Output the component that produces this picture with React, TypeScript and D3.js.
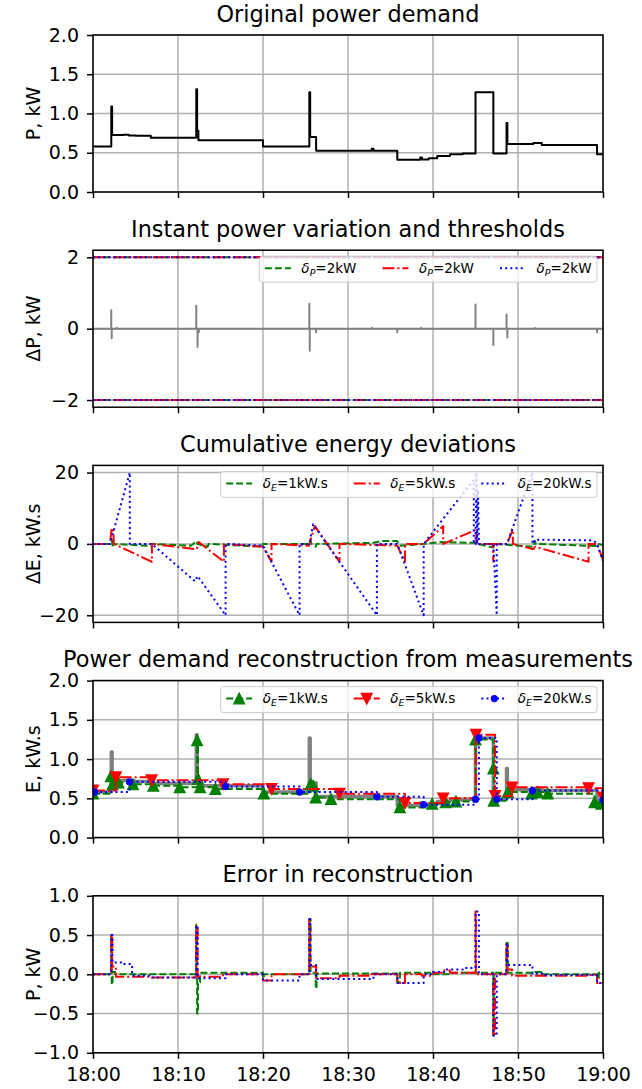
import { useEffect, useRef } from 'react'
import * as d3 from 'd3'

type Pt = [number, number]

// all series: [minutes after 18:00, value]
const demand: Pt[] = [
  [0, 0.58], [2.15, 1.09], [2.25, 0.725], [3.6, 0.73], [4.2, 0.72], [5.0, 0.715], [6.8, 0.69],
  [12.15, 1.31], [12.25, 0.78], [12.4, 0.66], [20.0, 0.58], [25.45, 1.27], [25.55, 0.7],
  [26.25, 0.525], [32.8, 0.55], [33.0, 0.525], [35.8, 0.41], [38.5, 0.44], [38.7, 0.415],
  [39.5, 0.43], [40.5, 0.46], [42.0, 0.48], [43.5, 0.49], [45.0, 1.27], [47.1, 0.49],
  [48.65, 0.88], [48.75, 0.61], [51.8, 0.625], [52.8, 0.6], [59.3, 0.48], [60, 0.48],
]

const powerSpikes: Pt[] = [
  [2.15, 0.52], [2.2, -0.27], [2.8, 0.03], [12.15, 0.64], [12.3, -0.51], [12.45, -0.1],
  [25.45, 0.7], [25.5, -0.62], [26.25, -0.1], [32.8, 0.03], [35.8, -0.1], [38.6, 0.03],
  [45.0, 0.68], [47.1, -0.46], [48.65, 0.4], [48.75, -0.25], [52.0, 0.02], [59.3, -0.1],
]
const thresholds = [2, -2]

const devE1: Pt[] = [
  [0, 0], [2.1, 0], [2.25, 1.0], [2.3, -1.0], [2.35, 0], [6.9, -0.6], [7.0, 0], [11.5, -0.5],
  [12.2, 0.8], [12.3, 0], [13.5, -0.8], [13.6, 0], [19.9, -0.8], [20.0, 0], [25.4, 0],
  [25.6, 1.0], [25.7, 0], [26.2, -0.8], [26.3, 0], [33.0, 0.3], [34.0, 0.8], [35.8, 0.8],
  [35.9, 0], [36.2, -0.5], [38.9, 0], [41.0, 0.5], [45.1, 0.3], [45.2, 0], [47.1, -1.0],
  [47.2, 0], [51.8, -0.8], [52.0, 0.8], [52.1, 0], [59.2, -0.6], [59.4, 0], [60, -0.3],
]
const devE5: Pt[] = [
  [0, 0], [2.0, 0], [2.2, 4.5], [2.4, 3.5], [2.45, 0], [6.93, -5], [6.93, 0], [12.2, -1.5],
  [12.45, 0.5], [15.4, -5], [15.4, 0], [20.0, -0.8], [21.0, -5], [21.0, 0], [25.4, -0.5],
  [26.1, 5], [29.0, -5], [29.0, 0], [35.8, -0.5], [36.7, -5], [36.7, 0], [38.9, 0], [41.2, 5],
  [41.2, 0], [45.1, 4], [45.1, 0], [47.0, 0], [47.1, -5], [47.1, 0], [48.7, 0], [49.4, 4],
  [49.4, 0], [51.8, -1.5], [52.0, -0.8], [58.3, -5], [58.3, 0], [59.3, 0], [60, -4.5],
]
const devE20: Pt[] = [
  [0, 0], [2.0, 0], [4.33, 20], [4.33, 0], [6.93, 0], [12.0, -10.5], [12.3, -9], [15.6, -20],
  [15.6, 0], [20.0, -0.5], [24.3, -20], [24.3, 0], [25.45, 0], [25.9, 5.5], [33.4, -20],
  [33.4, 0], [35.8, 0], [38.9, -20], [38.9, 0], [44.8, 18], [44.8, 0], [45.0, 0], [45.1, 20],
  [45.2, 0], [45.3, 15], [45.4, 0], [47.1, 0], [47.5, -20], [47.5, 0], [48.7, 0], [51.7, 20],
  [51.7, 0], [52.0, 1.2], [58.5, 1.0], [59.2, 0.5], [60, -4.7],
]

const recE1: Pt[] = [
  [0, 0.56], [2.1, 0.78], [2.3, 0.68], [3.0, 0.7], [4.7, 0.68], [7.1, 0.66], [10.2, 0.64],
  [12.25, 1.24], [12.35, 0.75], [12.6, 0.64], [14.4, 0.62], [20.1, 0.56], [25.6, 0.68],
  [25.9, 0.66], [26.2, 0.51], [28.0, 0.49], [36.1, 0.385], [39.9, 0.43], [41.5, 0.45],
  [42.7, 0.46], [45.0, 1.25], [47.1, 0.88], [47.15, 0.47], [48.8, 0.58], [51.6, 0.56],
  [52.3, 0.58], [53.5, 0.56], [59.0, 0.45], [59.8, 0.43],
]
const recE5: Pt[] = [
  [0, 0.6], [2.7, 0.77], [6.9, 0.73], [15.3, 0.68], [21.0, 0.62], [29.0, 0.56], [36.7, 0.44],
  [41.2, 0.5], [45.05, 1.31], [47.3, 0.53], [49.3, 0.64], [58.3, 0.63], [60, 0.51],
]
const recE20: Pt[] = [
  [0.2, 0.58], [4.3, 0.71], [15.6, 0.65], [24.3, 0.58], [33.4, 0.52], [38.9, 0.42],
  [45.0, 0.49], [45.4, 1.27], [47.5, 0.49], [51.7, 0.6], [60, 0.48],
]

const errE1: Pt[] = [
  [0, 0], [2.15, 0.5], [2.2, -0.13], [2.3, 0.03], [2.6, 0], [12.15, 0.63], [12.25, -0.5],
  [12.35, -0.1], [12.6, 0.02], [20.0, -0.05], [20.1, 0], [25.45, 0.7], [25.6, 0.02],
  [26.2, -0.18], [26.3, 0.01], [35.8, -0.1], [36.1, 0.02], [39.9, 0], [42.0, 0.02],
  [47.1, -0.78], [47.15, 0.02], [48.65, 0.4], [48.8, 0.02], [52.0, 0.03], [53.0, 0],
  [59.3, -0.05], [59.5, 0.02], [60, 0],
]
const errE5: Pt[] = [
  [0, 0], [2.15, 0.5], [2.25, 0.1], [2.7, -0.03], [6.9, -0.04], [12.15, 0.62], [12.3, -0.02],
  [12.4, -0.03], [15.3, 0], [20.0, -0.08], [21.0, 0], [25.45, 0.7], [25.55, 0.1],
  [26.25, -0.05], [29.0, -0.02], [32.8, 0.02], [33.0, 0], [35.8, -0.11], [36.7, 0],
  [38.7, -0.02], [40.0, 0.02], [41.2, 0.05], [42.0, 0.02], [45.0, 0.8], [45.05, 0],
  [47.1, -0.78], [47.3, 0], [48.65, 0.4], [48.75, 0.06], [49.3, -0.02], [58.3, -0.01],
  [59.3, -0.11], [60, -0.11],
]
const errE20: Pt[] = [
  [0, 0], [2.15, 0.5], [2.3, 0.15], [3.5, 0.13], [4.6, -0.02], [7.0, -0.04], [12.15, 0.62],
  [12.3, -0.05], [15.6, 0], [20.0, -0.08], [24.3, 0], [25.45, 0.7], [25.55, 0.12],
  [26.25, -0.06], [33.0, 0], [35.8, -0.11], [38.9, 0], [40.0, 0.03], [41.5, 0.06],
  [43.5, 0.08], [45.0, 0.8], [45.4, 0], [47.1, -0.78], [47.5, 0], [48.65, 0.4],
  [48.75, 0.12], [51.7, 0.01], [53.0, -0.01], [59.3, -0.11], [60, -0.11],
]

const titles = [
  'Original power demand',
  'Instant power variation and thresholds',
  'Cumulative energy deviations',
  'Power demand reconstruction from measurements',
  'Error in reconstruction',
]
const ylabels = ['P, kW', 'ΔP, kW', 'ΔE, kW.s', 'E, kW.s', 'P, kW']
const yDomains: Pt[] = [[0, 2], [-2.2, 2.2], [-22, 22], [0, 2], [-1, 1]]
const yTicks = [
  [0, 0.5, 1, 1.5, 2],
  [-2, 0, 2],
  [-20, 0, 20],
  [0, 0.5, 1, 1.5, 2],
  [-1, -0.5, 0, 0.5, 1],
]
const yFormats = ['.1f', 'd', 'd', '.1f', '.1f']
const powerLegend = ['=2kW', '=2kW', '=2kW']
const energyLegend = ['=1kW.s', '=5kW.s', '=20kW.s']

const FONT = 'DejaVu Sans, Verdana, sans-serif'
const LEFT = 93
const RIGHT = 603
const PH = 157
const GREEN = '#008000'
const RED = '#ff0000'
const BLUE = '#0000ff'
const GRAY = '#808080'
const DASH = '7,3'
const DASHDOT = '12,3,2,3'
const DOT = '2,3.2'

const base = new Date(2020, 0, 1, 18, 0, 0).getTime()
const toDate = (m: number) => new Date(base + m * 60000)

type Sel = d3.Selection<SVGGElement, unknown, null, undefined>

const triUp = (s: number) => `M0,${-s}L${-s},${s}L${s},${s}Z`
const triDown = (s: number) => `M0,${s}L${-s},${-s}L${s},${-s}Z`

function drawMarker(g: Sel, kind: string, color: string, cx: number, cy: number) {
  if (kind === 'up' || kind === 'down') {
    g.append('path')
      .attr('d', kind === 'up' ? triUp(5.2) : triDown(5.2))
      .attr('transform', `translate(${cx},${cy})`)
      .attr('fill', color)
      .attr('stroke', color)
      .attr('stroke-width', 1.5)
  } else if (kind === 'dot') {
    g.append('circle').attr('cx', cx).attr('cy', cy).attr('r', 3.6).attr('fill', color)
  }
}

function drawLegend(g: Sel, top: number, items: { color: string; dash: string; sub: string; text: string; marker?: string }[]) {
  const fs = 13.5
  const lg = g.append('g')
  const frame = lg.append('rect')
  let cur = 5.5
  items.forEach((it, i) => {
    const e = lg.append('g').attr('transform', `translate(${cur},0)`)
    e.append('line')
      .attr('x1', 0).attr('x2', 26).attr('y1', 12).attr('y2', 12)
      .attr('stroke', it.color).attr('stroke-width', 2).attr('stroke-dasharray', it.dash)
    if (it.marker) drawMarker(e, it.marker, it.color, 13, 12)
    const t = e.append('text')
      .attr('x', 36.5).attr('y', 16.5)
      .attr('font-family', FONT).attr('font-size', fs).attr('fill', '#000')
    t.append('tspan').attr('font-style', 'italic').text('δ')
    t.append('tspan').attr('font-style', 'italic').attr('font-size', fs * 0.7).attr('dy', 3).text(it.sub)
    t.append('tspan').attr('dy', -3).text(it.text)
    const w = (t.node() as SVGTextElement).getComputedTextLength()
    cur += 36.5 + w + (i < items.length - 1 ? 26 : 5.5)
  })
  frame
    .attr('x', 0).attr('y', 0).attr('width', cur).attr('height', 26).attr('rx', 3)
    .attr('fill', '#fff').attr('fill-opacity', 0.8)
    .attr('stroke', '#cccccc').attr('stroke-width', 1)
  lg.attr('transform', `translate(${RIGHT - 6 - cur},${top + 6})`)
}

export default function App() {
  const svgRef = useRef<SVGSVGElement>(null)

  useEffect(() => {
    if (!svgRef.current) return
    const svg = d3.select(svgRef.current)
    svg.selectAll('*').remove()

    const x = d3.scaleTime().domain([toDate(0), toDate(60)]).range([LEFT, RIGHT])
    const xTicks = x.ticks(d3.timeMinute.every(10) as d3.TimeInterval)

    titles.forEach((title, i) => {
      const top = 35 + i * 215.2
      const bottom = top + PH
      const y = d3.scaleLinear().domain(yDomains[i]).range([bottom, top])
      const g = svg.append('g') as unknown as Sel

      const clipId = `clip-${i}`
      svg.append('clipPath').attr('id', clipId)
        .append('rect').attr('x', LEFT).attr('y', top).attr('width', RIGHT - LEFT).attr('height', PH)

      // grid
      g.append('g').selectAll('line').data(xTicks).join('line')
        .attr('x1', d => x(d)).attr('x2', d => x(d)).attr('y1', top).attr('y2', bottom)
        .attr('stroke', '#b0b0b0').attr('stroke-width', 1.5)
      g.append('g').selectAll('line').data(yTicks[i]).join('line')
        .attr('x1', LEFT).attr('x2', RIGHT).attr('y1', d => y(d)).attr('y2', d => y(d))
        .attr('stroke', '#b0b0b0').attr('stroke-width', 1.5)

      const plot = g.append('g').attr('clip-path', `url(#${clipId})`) as unknown as Sel
      const lineStep = d3.line<Pt>().x(d => x(toDate(d[0]))).y(d => y(d[1])).curve(d3.curveStepAfter)
      const lineLin = d3.line<Pt>().x(d => x(toDate(d[0]))).y(d => y(d[1]))
      const path = (data: Pt[], gen: d3.Line<Pt>, color: string, width: number, dash?: string) =>
        plot.append('path').attr('d', gen(data)).attr('fill', 'none')
          .attr('stroke', color).attr('stroke-width', width)
          .attr('stroke-dasharray', dash ?? null).attr('stroke-linejoin', 'round')

      if (i === 0) {
        path(demand, lineStep, '#000', 2)
      } else if (i === 1) {
        const pts: Pt[] = [[0, 0]]
        powerSpikes.forEach(([t, v]) => { pts.push([t, 0], [t, v], [t, 0]) })
        pts.push([60, 0])
        path(pts, lineLin, GRAY, 2)
        const styles: [string, string][] = [[GREEN, DASH], [RED, DASHDOT], [BLUE, DOT]]
        styles.forEach(([c, dsh]) => {
          thresholds.forEach(v => path([[0, v], [60, v]], lineLin, c, 2, dsh))
        })
        drawLegend(g, top, styles.map(([c, dsh], k) => ({ color: c, dash: dsh, sub: 'P', text: powerLegend[k] })))
      } else if (i === 2) {
        path(devE1, lineLin, GREEN, 2, DASH)
        path(devE5, lineLin, RED, 2, DASHDOT)
        path(devE20, lineLin, BLUE, 2, DOT)
        drawLegend(g, top, [
          { color: GREEN, dash: DASH, sub: 'E', text: energyLegend[0] },
          { color: RED, dash: DASHDOT, sub: 'E', text: energyLegend[1] },
          { color: BLUE, dash: DOT, sub: 'E', text: energyLegend[2] },
        ])
      } else if (i === 3) {
        path(demand, lineStep, GRAY, 3.5)
        const sets: [Pt[], string, string, string][] = [
          [recE1, GREEN, DASH, 'up'], [recE5, RED, DASHDOT, 'down'], [recE20, BLUE, DOT, 'dot'],
        ]
        sets.forEach(([data, c, dsh, mk]) => {
          path(data, lineStep, c, 2, dsh)
          data.forEach(d => drawMarker(plot, mk, c, x(toDate(d[0])), y(d[1])))
        })
        drawLegend(g, top, sets.map(([, c, dsh, mk], k) => ({ color: c, dash: dsh, sub: 'E', text: energyLegend[k], marker: mk })))
      } else {
        path(errE1, lineStep, GREEN, 2, DASH)
        path(errE5, lineStep, RED, 2, DASHDOT)
        path(errE20, lineStep, BLUE, 2, DOT)
      }

      // spines
      g.append('rect').attr('x', LEFT).attr('y', top).attr('width', RIGHT - LEFT).attr('height', PH)
        .attr('fill', 'none').attr('stroke', '#000').attr('stroke-width', 1.5)

      const ya = g.append('g').attr('transform', `translate(${LEFT},0)`)
        .call(d3.axisLeft(y).tickValues(yTicks[i]).tickFormat(d3.format(yFormats[i]) as any).tickSize(6).tickPadding(8))
      ya.select('.domain').remove()
      ya.attr('font-family', FONT).attr('font-size', 19)
      ya.selectAll('line').attr('stroke', '#000').attr('stroke-width', 1.5)
      ya.selectAll('text').attr('fill', '#000')

      const xa = g.append('g').attr('transform', `translate(0,${bottom})`)
        .call(d3.axisBottom(x).tickValues(xTicks)
          .tickFormat((i === 4 ? d3.timeFormat('%H:%M') : () => '') as any).tickSize(6).tickPadding(9))
      xa.select('.domain').remove()
      xa.attr('font-family', FONT).attr('font-size', 19)
      xa.selectAll('line').attr('stroke', '#000').attr('stroke-width', 1.5)
      xa.selectAll('text').attr('fill', '#000')

      g.append('text')
        .attr('x', (LEFT + RIGHT) / 2).attr('y', top - 13.5)
        .attr('text-anchor', 'middle').attr('font-family', FONT).attr('font-size', 22.4)
        .text(title)

      g.append('text')
        .attr('transform', `translate(40,${(top + bottom) / 2}) rotate(-90)`)
        .attr('text-anchor', 'middle').attr('font-family', FONT).attr('font-size', 19)
        .text(ylabels[i])
    })
  }, [])

  return (
    <svg
      ref={svgRef}
      width={642}
      height={1089}
      style={{ position: 'absolute', left: 0, top: 0, background: '#fff' }}
    />
  )
}
